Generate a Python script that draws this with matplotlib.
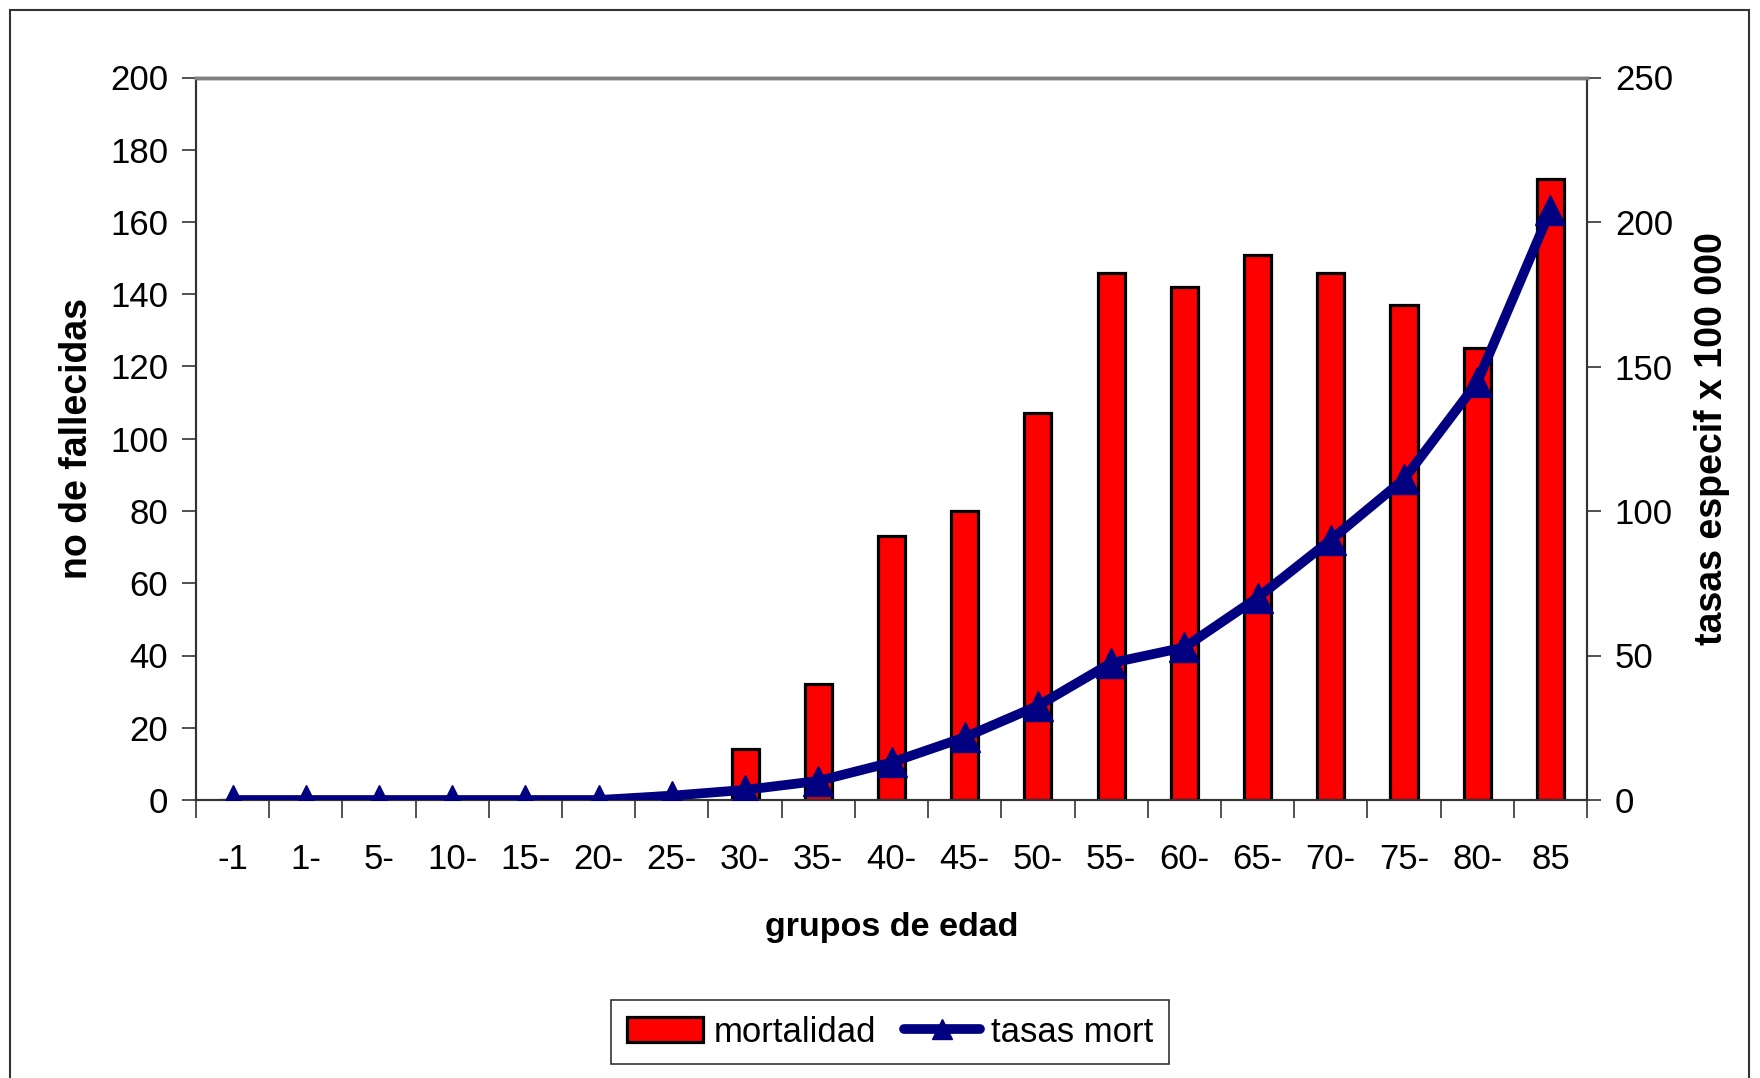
import matplotlib
matplotlib.use("Agg")
import matplotlib.pyplot as plt
from matplotlib.patches import Rectangle
import numpy as np

categories = ["-1", "1-", "5-", "10-", "15-", "20-", "25-", "30-", "35-", "40-",
              "45-", "50-", "55-", "60-", "65-", "70-", "75-", "80-", "85"]
mortalidad = [0, 0, 0, 0, 0, 0, 2, 14, 32, 73, 80, 107, 146, 142, 151, 146, 137, 125, 172]
tasas_mort = [0, 0, 0, 0, 0, 0, 1.5, 3.5, 6.6, 13, 21.7, 32.6, 47.4, 52.8, 70, 90, 111, 144.5, 204]
left_ticks = list(range(0, 201, 20))
right_ticks = list(range(0, 251, 50))

plt.rcParams['font.family'] = ['Liberation Sans', 'DejaVu Sans']

W, H = 1760, 1078
TICK_FS = 25
fig = plt.figure(figsize=(W / 100, H / 100), dpi=100)
fig.patches.append(Rectangle((10 / W, -0.01), 1739 / W, 1 - 10 / H + 0.01,
                             transform=fig.transFigure, fill=False,
                             edgecolor='#333333', linewidth=1.5))

ax = fig.add_axes([196 / W, 1 - 800 / H, (1587 - 196) / W, (800 - 77.5) / H])
x = np.arange(len(categories))
ax.bar(x, mortalidad, width=0.37, color='#ff0000', edgecolor='black', linewidth=2.3,
       label='mortalidad', zorder=2)
ax.set_xlim(-0.5, len(categories) - 0.5)
ax.set_ylim(0, 200)
ax.set_yticks(left_ticks)
ax.set_xticks(np.arange(-0.5, len(categories), 1.0))
ax.set_xticklabels([])
ax.set_xticks(x, minor=True)
ax.set_xticklabels(categories, minor=True)
ax.tick_params(axis='x', which='major', direction='out', length=13, width=1.2, color='#333333')
ax.tick_params(axis='x', which='minor', length=0, pad=31, labelsize=TICK_FS)
ax.tick_params(axis='y', direction='out', length=10, width=1.2, pad=10, labelsize=TICK_FS, color='#333333')
for s in ['left', 'bottom', 'right']:
    ax.spines[s].set_color('#333333')
    ax.spines[s].set_linewidth(1.5)
ax.spines['top'].set_color('#808080')
ax.spines['top'].set_linewidth(2.5)
ax.set_ylabel('no de fallecidas', fontsize=27, fontweight='bold', labelpad=11)
ax.set_xlabel('grupos de edad', fontsize=24.5, fontweight='bold', labelpad=26)

ax2 = ax.twinx()
ax2.plot(x, tasas_mort, color='#000080', linewidth=7, marker='^', markersize=21,
         label='tasas mort', solid_capstyle='round', zorder=3)
ax2.set_ylim(0, 250)
ax2.set_yticks(right_ticks)
ax2.tick_params(axis='y', direction='out', length=10, width=1.2, pad=10, labelsize=TICK_FS, color='#333333')
ax2.set_ylabel('tasas especif x 100 000', fontsize=27, fontweight='bold', labelpad=15)
for s in ['left', 'bottom', 'right']:
    ax2.spines[s].set_color('#333333')
    ax2.spines[s].set_linewidth(1.5)
ax2.spines['top'].set_color('#808080')
ax2.spines['top'].set_linewidth(2.5)

h1, l1 = ax.get_legend_handles_labels()
h2, l2 = ax2.get_legend_handles_labels()
leg = fig.legend(h1 + h2, l1 + l2, loc='center', bbox_to_anchor=(890 / W, 1 - 1032 / H),
                 ncol=2, fontsize=TICK_FS, frameon=True, fancybox=False, edgecolor='black',
                 handlelength=2.2, handletextpad=0.3, columnspacing=0.8, borderpad=0.45,
                 markerscale=0.7)
leg.get_frame().set_linewidth(1.2)

fig.savefig('out.png', dpi=100)
